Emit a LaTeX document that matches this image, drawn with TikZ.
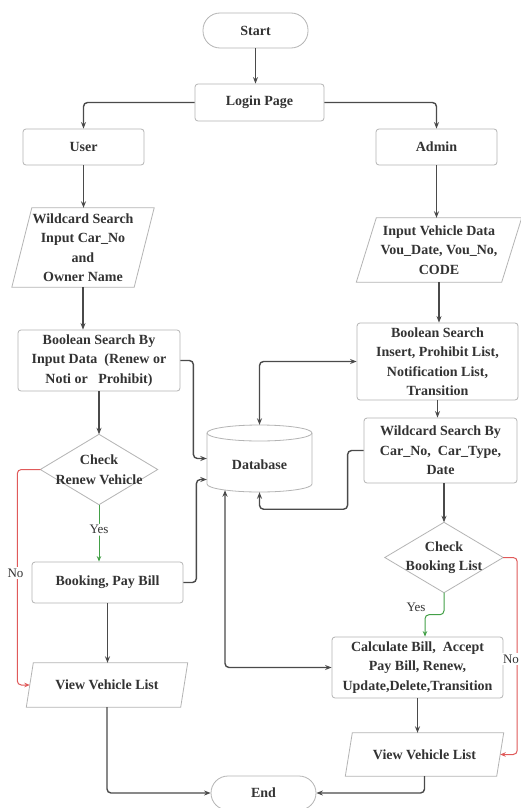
\documentclass[tikz,border=0pt]{standalone}
\usepackage{fontspec}
\setmainfont{Liberation Serif}
\usetikzlibrary{arrows.meta,calc,backgrounds}

\definecolor{linec}{HTML}{4A4A4A}
\definecolor{framec}{HTML}{B4B4B4}
\definecolor{txtc}{HTML}{333333}
\definecolor{noc}{HTML}{E05A5A}
\definecolor{yesc}{HTML}{43A047}

\tikzset{
  every node/.style={font=\fontsize{14}{19.5}\selectfont\bfseries, text=txtc, align=center, inner sep=0pt},
  frame/.style={draw=framec, line width=0.8pt},
  procbox/.style={frame, rectangle, rounded corners=3pt, fill=white},
  termbox/.style={frame, rectangle, rounded corners=17pt, fill=white, minimum width=105pt, minimum height=35pt},
  plain/.style={rectangle},
  flow/.style={draw=linec, line width=1.4pt, rounded corners=4pt, -{Stealth[length=6.5pt,width=5pt]}},
  twoway/.style={flow, {Stealth[length=6.5pt,width=5pt]}-{Stealth[length=6.5pt,width=5pt]}},
  noflow/.style={flow, color=noc, line width=1pt, -{Stealth[length=5.5pt,width=4.5pt]}},
  yesflow/.style={flow, color=yesc, line width=1pt, -{Stealth[length=5.5pt,width=4.5pt]}},
  answer/.style={font=\fontsize{13}{15}\selectfont, text=txtc, fill=white, inner sep=1.5pt},
}

% slanted input/output frame around a plain node
\newcommand{\paraframe}[2]{%
  \draw[frame] ($(#1.north west)+(#2/2,0)$) -- ($(#1.north east)+(#2/2,0)$)
    -- ($(#1.south east)-(#2/2,0)$) -- ($(#1.south west)-(#2/2,0)$) -- cycle;}
% decision frame through the four side midpoints
\newcommand{\decisionframe}[1]{%
  \draw[frame] (#1.north) -- (#1.east) -- (#1.south) -- (#1.west) -- cycle;}

\begin{document}
\begin{tikzpicture}[x=1pt,y=-1pt]
\useasboundingbox (0,0) rectangle (521,808);

% ---- user branch
\node[termbox] (start) at (255.5,30.5) {Start};
\node[procbox, minimum width=129pt, minimum height=37pt] (login) at (259.5,102.5) {Login Page};
\node[procbox, minimum width=121pt, minimum height=36pt] (user) at (83.5,147) {User};
\node[procbox, minimum width=121pt, minimum height=36pt] (admin) at (436.5,147) {Admin};
\node[plain, minimum width=122pt, minimum height=79pt] (wcu) at (83,247.5)
  {Wildcard Search\\Input Car\_No\\and\\Owner Name};
\node[procbox, minimum width=162pt, minimum height=61pt] (booll) at (99,360.5)
  {Boolean Search By\\Input Data\ \ (Renew or\\Noti or\ \ \ Prohibit)};
\node[plain, minimum width=117pt, minimum height=70pt] (renew) at (99,469.5)
  {Check\\Renew Vehicle};
\node[procbox, minimum width=151pt, minimum height=41pt] (book) at (107.5,582.5) {Booking, Pay Bill};
\node[plain, minimum width=154pt, minimum height=44pt] (viewl) at (107,685) {View Vehicle List};
\node[termbox, minimum height=34pt] (end) at (263.5,793) {End};

% ---- shared store (label sits below the cap)
\node[plain, minimum width=105pt, minimum height=67pt] (db) at (259.5,458.5)
  {\raisebox{-6pt}[\height][\depth]{Database}};

% ---- admin branch
\node[plain, minimum width=145pt, minimum height=64pt] (vin) at (439,250)
  {Input Vehicle Data\\Vou\_Date, Vou\_No,\\CODE};
\node[procbox, minimum width=161pt, minimum height=77pt] (boolr) at (437.5,361.5)
  {Boolean Search\\Insert, Prohibit List,\\Notification List,\\Transition};
\node[procbox, minimum width=153pt, minimum height=65pt] (wcr) at (440.5,450.5)
  {Wildcard Search By\\Car\_No,\ \ Car\_Type,\\Date};
\node[plain, minimum width=118pt, minimum height=70pt] (bookchk) at (444,557.5)
  {Check\\Booking List};
\node[procbox, minimum width=171pt, minimum height=61pt] (calc) at (417.5,667.5)
  {Calculate Bill,\ \ Accept\\Pay Bill, Renew,\\Update,Delete,Transition};
\node[plain, minimum width=151pt, minimum height=43pt] (viewr) at (424.5,754.5) {View Vehicle List};

% ---- page and outlines of the non-rectangular shapes
\begin{scope}[on background layer]
  \fill[white] (0,0) rectangle (521,808);
  \paraframe{wcu}{20}
  \paraframe{vin}{20}
  \paraframe{viewl}{7}
  \paraframe{viewr}{7}
  \decisionframe{renew}
  \decisionframe{bookchk}
  % cylinder
  \draw[frame] (207,433) -- (207,484) arc[start angle=180, end angle=0, x radius=52.5, y radius=8] -- (312,433);
  \draw[frame] (259.5,433) ellipse[x radius=52.5, y radius=8];
\end{scope}

% ---- connectors
\draw[flow] (start) -- (start.south |- login.north);
\draw[flow] (login.west) -| (user.north);
\draw[flow] (login.east) -| (admin.north);
\draw[flow] (user.south) -- (user.south |- wcu.north);
\draw[flow] (wcu.south) -- (wcu.south |- booll.north);
\draw[flow] (booll.south) -- (booll.south |- renew.north);
\draw[flow] (booll.east) -- ++(13,0) |- (db.west);
\draw[noflow] (renew.west) -- ++(-23,0) |- (viewl.west);
\node[answer] (nol) at (15.5,573) {No};
\draw[yesflow] (renew.south) -- (renew.south |- book.north) node[answer, pos=0.44] (yesl) {Yes};
\draw[flow] (book.east) -- ++(13,0) |- ([yshift=-21pt]db.west);
\draw[flow] (book.south) -- (book.south |- viewl.north);
\draw[flow] (viewl.south) |- (end.west);

\draw[flow] (admin.south) -- (admin.south |- vin.north);
\draw[flow] (vin.south) -- (vin.south |- boolr.north);
\draw[twoway] (db.north) |- (boolr.west);
\draw[flow] (boolr.south) -- (boolr.south |- wcr.north);
\draw[flow] (wcr.west) -- ++(-16,0) |- ($(db.south)+(0,17)$) -- (db.south);
\draw[twoway] ([xshift=-34.5pt,yshift=2pt]db.south) |- (calc.west);
\draw[flow] (wcr.south -| bookchk.north) -- (bookchk.north);
\draw[noflow] (bookchk.east) -- ++(14,0) |- (viewr.east);
\node[answer] (nor) at (511,659) {No};
\draw[yesflow] (bookchk.south) -- ++(0,22) -| ([xshift=7.5pt]calc.north);
\node[answer, fill=none] (yesr) at (416,607) {Yes};
\draw[flow] (calc.south) -- (calc.south |- viewr.north);
\draw[flow] (viewr.south) |- (end.east);
\end{tikzpicture}
\end{document}
